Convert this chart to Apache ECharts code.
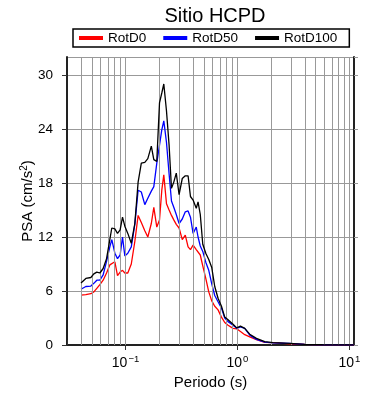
<!DOCTYPE html>
<html>
<head>
<meta charset="utf-8">
<script src="https://cdn.jsdelivr.net/npm/echarts@6/dist/echarts.min.js"></script>
<style>html,body{margin:0;padding:0;background:#fff}#c{width:390px;height:400px}</style>
</head>
<body>
<div id="c"></div>
<script>
const periods = [0.040,0.0442,0.0490,0.0521,0.0554,0.0590,0.0631,0.0677,0.0724,0.0754,0.0803,0.0848,0.0895,0.0940,0.0986,0.1048,0.1126,0.1211,0.1296,0.1384,0.1487,0.1582,0.1700,0.1790,0.1903,0.2012,0.2109,0.2198,0.2323,0.2451,0.2574,0.2699,0.2841,0.3010,0.3214,0.3420,0.3622,0.3804,0.4015,0.4286,0.4447,0.4655,0.4900,0.5212,0.5543,0.5895,0.6269,0.6710,0.7199,0.7700,0.8241,0.9135,0.9857,1.064,1.162,1.288,1.478,1.753,2.079,2.931,3.990,5.776,8.194,10.9];
const rotD100 = [6.9,7.4,7.5,7.9,8.1,8.0,8.5,9.6,11.7,13.0,12.9,12.4,12.8,14.2,13.2,12.4,11.3,13.5,18.1,20.2,20.3,20.7,22.1,20.6,20.4,26.9,28.0,29.0,26.0,22.2,17.4,18.1,19.1,16.7,18.5,18.8,18.8,16.5,16.1,15.2,15.9,14.5,11.2,10.2,9.5,8.6,6.5,5.2,4.3,3.1,2.8,2.3,1.9,2.1,1.85,1.2,0.74,0.37,0.26,0.19,0.08,0.03,0.02,0.01];
const rotD50 = [6.2,6.5,6.55,6.85,7.2,7.2,7.8,9.3,10.9,11.7,10.2,9.6,10.0,12.0,9.9,10.2,10.9,13.4,17.2,17.0,15.6,16.3,17.1,17.6,20.2,22.2,23.9,24.9,22.5,19.0,16.0,15.3,14.5,13.5,14.0,14.8,14.9,14.2,12.4,13.1,12.0,11.0,10.4,9.2,8.3,6.8,5.5,4.8,4.1,3.0,2.6,2.2,1.85,2.0,1.85,1.1,0.63,0.33,0.24,0.19,0.06,0.03,0.02,0.01];
const rotD0 = [5.55,5.6,5.7,5.9,6.3,6.7,7.2,8.0,8.9,9.1,9.25,7.7,8.1,8.3,8.0,8.0,9.0,11.5,14.4,13.6,12.7,12.0,13.5,15.3,13.1,13.9,17.2,18.9,15.7,15.0,14.4,13.9,13.4,13.0,11.7,12.2,10.9,10.6,11.1,10.6,10.7,10.0,8.8,7.4,5.9,4.9,4.3,3.9,3.1,2.5,2.2,1.85,1.8,1.5,1.15,0.9,0.6,0.3,0.26,0.12,0.06,0.02,0.01,0.01];
const seriesNames = ['RotD0','RotD50','RotD100'];
const seriesColors = ['#ff0000','#0000ff','#000000'];
const gridPeriods = [0.04,0.05,0.06,0.07,0.08,0.09,0.1,0.2,0.3,0.4,0.5,0.6,0.7,0.8,0.9,1,2,3,4,5,6,7,8,9,10];
const xMin = 0.03, xMax = 11;
const yMin = 0, yMax = 32, yStep = 6;

const FONT = 'Liberation Sans, Arial, Helvetica, sans-serif';
const chart = echarts.init(document.getElementById('c'), null, {renderer: 'canvas'});
const pairs = arr => periods.map((p, i) => [p, arr[i]]);
const expFmt = v => {
  const e = Math.round(Math.log10(v));
  if (Math.abs(Math.log10(v) - e) > 1e-6) return '';
  return '{b|10}{s|' + (e < 0 ? '\u2212' + (-e) : e) + '}';
};
const frameLine = {show: true, lineStyle: {color: '#222', width: 2}};
const option = {
  animation: false,
  backgroundColor: '#fff',
  title: {
    text: 'Sitio HCPD', left: 210, top: 1, textAlign: 'center',
    textStyle: {fontFamily: FONT, fontSize: 20, fontWeight: 'normal', color: '#000'}
  },
  legend: {
    left: 73, top: 29,
    data: seriesNames,
    icon: 'rect', itemWidth: 24, itemHeight: 4, itemGap: 17,
    padding: [2, 12, 2, 6],
    borderColor: '#000', borderWidth: 1.5,
    textStyle: {fontFamily: FONT, fontSize: 13.5, color: '#000', padding: [0, 0, 0, 0]}
  },
  grid: {left: 67, right: 36, top: 57, bottom: 55, containLabel: false},
  xAxis: [{
    type: 'log', logBase: 10, min: xMin, max: xMax,
    name: 'Periodo (s)', nameLocation: 'middle', nameGap: 30, nameMoveOverlap: false,
    nameTextStyle: {fontFamily: FONT, fontSize: 15, color: '#000'},
    axisLine: frameLine,
    axisTick: {show: true, inside: false, length: 5, lineStyle: {color: '#333'}},
    axisLabel: {
      margin: 9, formatter: expFmt, showMinLabel: false, showMaxLabel: false,
      rich: {
        b: {fontFamily: FONT, fontSize: 14, color: '#000'},
        s: {fontFamily: FONT, fontSize: 9.5, color: '#000', verticalAlign: 'top', padding: [0, 0, 8, 1]}
      }
    },
    splitLine: {show: false}
  }, {
    type: 'log', logBase: 10, min: xMin, max: xMax, position: 'top',
    axisLine: frameLine,
    axisTick: {show: true, inside: false, length: 5, lineStyle: {color: '#333'}},
    axisLabel: {show: false}, splitLine: {show: false}
  }],
  yAxis: [{
    type: 'value', min: yMin, max: yMax, interval: yStep,
    name: '{a|PSA (cm/s}{s|2}{a|)}', nameLocation: 'middle', nameGap: 30, nameMoveOverlap: false,
    nameTextStyle: {
      rich: {
        a: {fontFamily: FONT, fontSize: 15, color: '#000'},
        s: {fontFamily: FONT, fontSize: 10, color: '#000', verticalAlign: 'top', padding: [0, 0, 8, 0]}
      }
    },
    axisLine: frameLine,
    axisTick: {show: true, inside: false, length: 5, lineStyle: {color: '#333'}},
    axisLabel: {margin: 14, fontFamily: FONT, fontSize: 13.5, color: '#000', showMaxLabel: false},
    splitLine: {show: true, lineStyle: {color: '#999', width: 1}}
  }, {
    type: 'value', min: yMin, max: yMax, interval: yStep, position: 'right',
    axisLine: frameLine,
    axisTick: {show: true, inside: false, length: 4, lineStyle: {color: '#999'}},
    axisLabel: {show: false}, splitLine: {show: false}
  }],
  series: [
    {
      type: 'line', name: '_grid', data: [], silent: true, z: 1,
      markLine: {
        silent: true, symbol: 'none', label: {show: false},
        lineStyle: {color: '#999', width: 1, type: 'solid'},
        emphasis: {disabled: true},
        data: gridPeriods.map(p => ({xAxis: p}))
      }
    }
  ].concat([rotD0, rotD50, rotD100].map((arr, i) => ({
    type: 'line', name: seriesNames[i], data: pairs(arr),
    showSymbol: false, symbol: 'none', z: 3 + i,
    lineStyle: {color: seriesColors[i], width: 1.3},
    itemStyle: {color: seriesColors[i]}
  })))
};
chart.setOption(option);
</script>
</body>
</html>
